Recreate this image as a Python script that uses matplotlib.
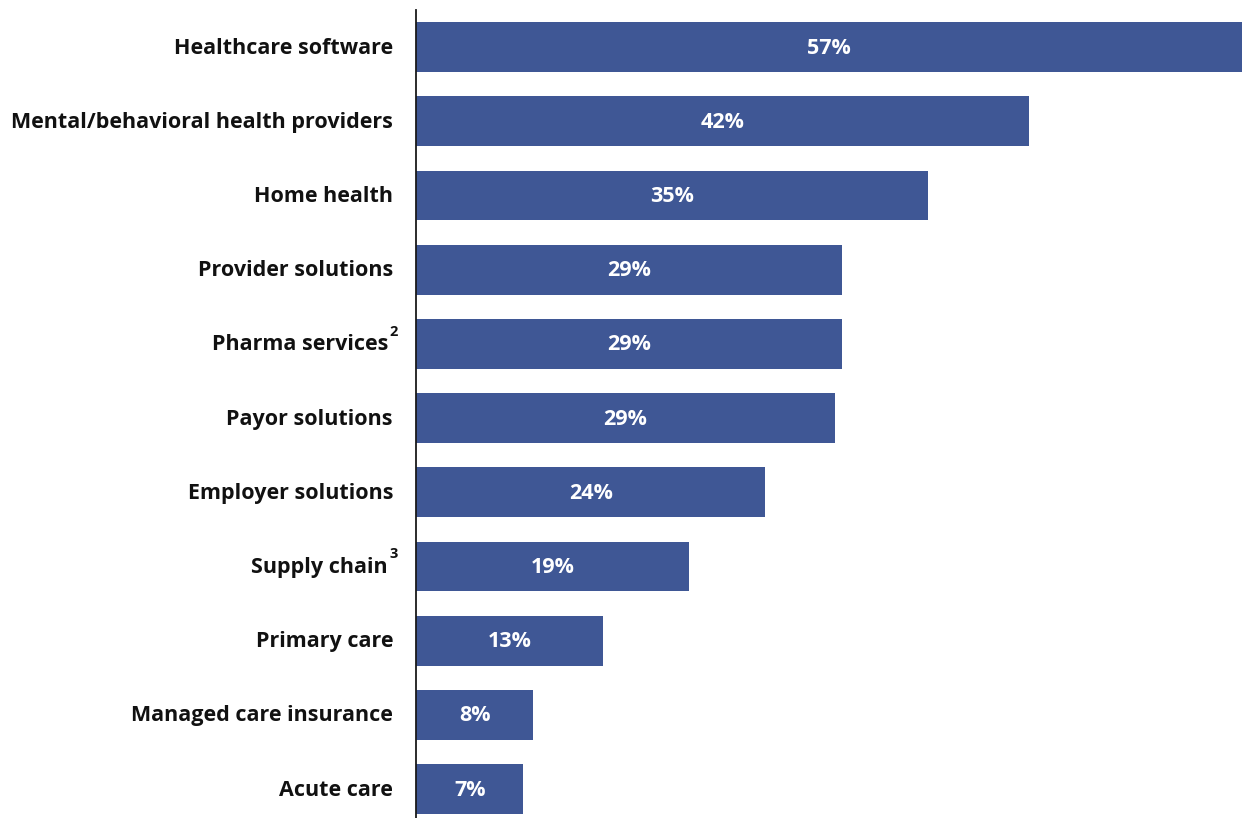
import matplotlib.pyplot as plt
import matplotlib.transforms as mtransforms

categories = [
    "Healthcare software",
    "Mental/behavioral health providers",
    "Home health",
    "Provider solutions",
    "Pharma services",
    "Payor solutions",
    "Employer solutions",
    "Supply chain",
    "Primary care",
    "Managed care insurance",
    "Acute care",
]
shares = [57.0, 42.3, 35.3, 29.4, 29.4, 28.9, 24.1, 18.8, 12.9, 8.1, 7.4]
footnotes = ["", "", "", "", "2", "", "", "3", "", "", ""]

bar_color = "#3F5795"
font = "Open Sans"

fig = plt.figure(figsize=(12.44, 8.18), dpi=100)
ax = fig.add_axes([416 / 1244, 0, 827 / 1244, 1 - 10 / 818])

y = list(range(len(categories)))
ax.barh(y, shares, height=0.67, color=bar_color)

ax.set_xlim(0, 57.05)
ax.set_ylim(10.39, -0.5)

for spine in ["top", "right", "bottom"]:
    ax.spines[spine].set_visible(False)
ax.spines["left"].set_linewidth(1.3)
ax.spines["left"].set_color("#1a1a1a")
ax.set_xticks([])
ax.set_yticks([])

# category names, footnote markers sit just after the name
plain = mtransforms.offset_copy(ax.get_yaxis_transform(), fig=fig, x=-23, y=-1, units="dots")
shifted = mtransforms.offset_copy(ax.get_yaxis_transform(), fig=fig, x=-28, y=-1, units="dots")
sup = mtransforms.offset_copy(ax.get_yaxis_transform(), fig=fig, x=-27, y=12, units="dots")
for i, (name, note) in enumerate(zip(categories, footnotes)):
    if note:
        ax.text(0, i, name, transform=shifted, ha="right", va="center",
                fontsize=15.5, fontweight="bold", family=font, color="#111111")
        ax.text(0, i, note, transform=sup, ha="left", va="center",
                fontsize=10.5, fontweight="bold", family=font, color="#111111")
    else:
        ax.text(0, i, name, transform=plain, ha="right", va="center",
                fontsize=15.5, fontweight="bold", family=font, color="#111111")

value_shift = mtransforms.offset_copy(ax.transData, fig=fig, x=0, y=-1, units="dots")
for i, v in enumerate(shares):
    ax.text(v / 2, i, f"{v:.0f}%", transform=value_shift, ha="center", va="center",
            fontsize=15.5, fontweight="bold", family=font, color="white")

fig.savefig("out.png", dpi=100)
